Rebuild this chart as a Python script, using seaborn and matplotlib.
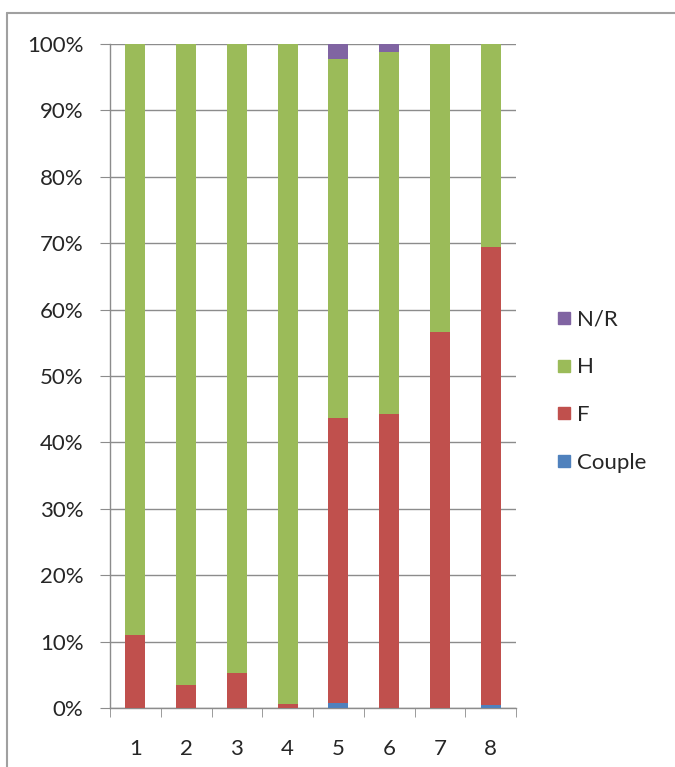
import matplotlib
matplotlib.use("Agg")
import matplotlib.pyplot as plt
from matplotlib.lines import Line2D
from matplotlib.ticker import FixedLocator, PercentFormatter
import numpy as np
import pandas as pd
import seaborn as sns

# data (percent of each bar)
groups = ["1", "2", "3", "4", "5", "6", "7", "8"]
couple = [0.0, 0.0, 0.0, 0.0, 0.8, 0.0, 0.0, 0.4]
f_vals = [11.0, 3.4, 5.2, 0.6, 42.9, 44.3, 56.6, 69.0]
h_vals = [89.0, 96.6, 94.8, 99.4, 54.0, 54.5, 43.4, 30.6]
nr_vals = [0.0, 0.0, 0.0, 0.0, 2.3, 1.2, 0.0, 0.0]

series = ["Couple", "F", "H", "N/R"]
colors = {"Couple": "#4F81BD", "F": "#C0504D", "H": "#9BBB59", "N/R": "#8064A2"}

df = pd.DataFrame({"group": groups, "Couple": couple, "F": f_vals, "H": h_vals, "N/R": nr_vals})
cum = df[series].cumsum(axis=1)

sns.set_style("white")
plt.rcParams["font.family"] = ["Lato", "DejaVu Sans"]
FS = 16

fig = plt.figure(figsize=(6.75, 7.67), dpi=100)
ax = fig.add_axes([110 / 675, 59 / 767, 406 / 675, 664 / 767])

# stacked bars: draw cumulative totals from the top series down
for name in reversed(series):
    sns.barplot(x=df["group"], y=cum[name], color=colors[name], width=0.39,
                saturation=1, linewidth=0, ax=ax, zorder=3)

ax.set_xlim(-0.5, 7.5)
ax.set_ylim(0, 100)
ax.set_xlabel("")
ax.set_ylabel("")

grid_c = "#8c8c8c"
ax.yaxis.set_major_locator(FixedLocator(np.arange(0, 101, 10)))
ax.yaxis.set_major_formatter(PercentFormatter(decimals=0))
ax.grid(axis="y", color=grid_c, linewidth=1, zorder=0)
ax.set_axisbelow(True)

for s in ["top", "right"]:
    ax.spines[s].set_visible(False)
for s in ["left", "bottom"]:
    ax.spines[s].set_color(grid_c)
    ax.spines[s].set_linewidth(1)

ax.tick_params(axis="y", direction="out", length=7, color=grid_c, labelsize=FS, pad=12, left=True)
ax.tick_params(axis="x", which="major", length=0, labelsize=FS, pad=22)
ax.xaxis.set_minor_locator(FixedLocator(np.arange(-0.5, 8, 1)))
ax.tick_params(axis="x", which="minor", direction="out", length=6.5, color=grid_c, bottom=True)

handles = [Line2D([], [], marker="s", linestyle="", markersize=9,
                  markerfacecolor=colors[n], markeredgecolor=colors[n], label=n)
           for n in ["N/R", "H", "F", "Couple"]]
fig.legend(handles=handles, loc="center left", bbox_to_anchor=(0.788, 0.49),
           frameon=False, fontsize=FS, labelspacing=1.25, handletextpad=0.05,
           handlelength=1.1)

# outer chart border (only left and top visible in the crop)
fig.add_artist(Line2D([7 / 675, 7 / 675], [0, 1 - 13 / 767], transform=fig.transFigure,
                      color="#a0a0a0", linewidth=1.5))
fig.add_artist(Line2D([7 / 675, 1], [1 - 13 / 767, 1 - 13 / 767], transform=fig.transFigure,
                      color="#a0a0a0", linewidth=1.5))

fig.savefig("out.png", dpi=100)
